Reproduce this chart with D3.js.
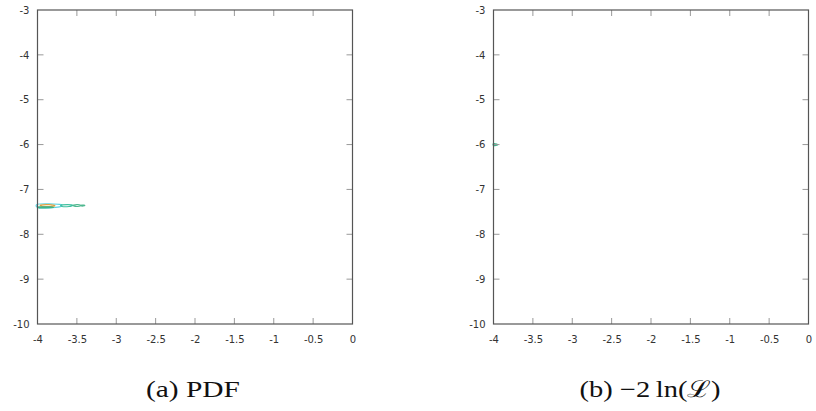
<!DOCTYPE html>
<html><head><meta charset="utf-8">
<script src="https://cdn.jsdelivr.net/npm/d3@7"></script>
<style>body{margin:0;background:#fff}svg{display:block}</style>
</head><body>
<script>
const xTicks = [-4, -3.5, -3, -2.5, -2, -1.5, -1, -0.5, 0];
const yTicks = [-10, -9, -8, -7, -6, -5, -4, -3];
const captions = ["(a) PDF", "(b) \u22122\u2009ln(\u2112)"];
// contour rings for panel (a): [level colour, points]
const contourA = [
  {c: "#5fd3e0", pts: [[-4,-7.33],[-3.85,-7.32],[-3.7,-7.34],[-3.72,-7.39],[-3.86,-7.41],[-4,-7.40]]},
  {c: "#e0a040", pts: [[-3.96,-7.35],[-3.86,-7.34],[-3.78,-7.36],[-3.84,-7.38],[-3.94,-7.38]]},
  {c: "#3cb48c", pts: [[-3.98,-7.39],[-3.85,-7.39],[-3.80,-7.40],[-3.90,-7.41],[-3.98,-7.41]]},
  {c: "#40c0a0", pts: [[-3.70,-7.35],[-3.62,-7.34],[-3.55,-7.35],[-3.60,-7.38],[-3.69,-7.38]]},
  {c: "#50b890", pts: [[-3.54,-7.35],[-3.49,-7.34],[-3.45,-7.36],[-3.49,-7.38],[-3.54,-7.37]]},
  {c: "#50b890", pts: [[-3.44,-7.35],[-3.41,-7.35],[-3.40,-7.36],[-3.42,-7.37],[-3.44,-7.37]]}
];
const contourB = [
  {c: "#3cb48c", pts: [[-4,-5.98],[-3.96,-5.99],[-3.95,-6.01],[-4,-6.02]]}
];

const W = 816, H = 411;
const svg = d3.select("body").append("svg").attr("width", W).attr("height", H);
const panels = [
  {x0: 37.5, contours: contourA, capX: 193, capW: 94},
  {x0: 493.5, contours: contourB, capX: 650, capW: 141}
];
const pw = 315, plotTop = 10, plotBottom = 324;

panels.forEach((p, i) => {
  const x = d3.scaleLinear().domain([-4, 0]).range([p.x0, p.x0 + pw]);
  const y = d3.scaleLinear().domain([-10, -3]).range([plotBottom, plotTop]);
  const g = svg.append("g");
  const line = d3.line().x(d => x(d[0])).y(d => y(d[1])).curve(d3.curveCardinalClosed);
  p.contours.forEach(c => {
    g.append("path").attr("d", line(c.pts)).attr("fill", "none")
      .attr("stroke", c.c).attr("stroke-width", 1.2);
  });
  const tickCol = "#999";
  xTicks.slice(1, -1).forEach(t => {
    g.append("line").attr("x1", x(t)).attr("x2", x(t)).attr("y1", plotBottom).attr("y2", plotBottom - 6).attr("stroke", tickCol);
    g.append("line").attr("x1", x(t)).attr("x2", x(t)).attr("y1", plotTop).attr("y2", plotTop + 6).attr("stroke", tickCol);
  });
  yTicks.slice(1, -1).forEach(t => {
    g.append("line").attr("x1", p.x0).attr("x2", p.x0 + 6).attr("y1", y(t)).attr("y2", y(t)).attr("stroke", tickCol);
    g.append("line").attr("x1", p.x0 + pw).attr("x2", p.x0 + pw - 6).attr("y1", y(t)).attr("y2", y(t)).attr("stroke", tickCol);
  });
  g.append("rect").attr("x", p.x0).attr("y", plotTop).attr("width", pw).attr("height", plotBottom - plotTop)
    .attr("fill", "none").attr("stroke", "#555").attr("stroke-width", 1.2);
  const ax = g.append("g").attr("transform", `translate(0,${plotBottom})`)
    .call(d3.axisBottom(x).tickValues(xTicks).tickFormat(d => String(d)).tickSize(0).tickPadding(12));
  const ay = g.append("g").attr("transform", `translate(${p.x0},0)`)
    .call(d3.axisLeft(y).tickValues(yTicks).tickFormat(d => String(d)).tickSize(0).tickPadding(8));
  [ax, ay].forEach(a => {
    a.select(".domain").remove();
    a.selectAll("text").attr("font-family", "DejaVu Sans, sans-serif").attr("font-size", 10).attr("fill", "#333");
  });
  svg.append("text").attr("x", p.capX).attr("y", 397).attr("text-anchor", "middle")
    .attr("font-family", "Liberation Serif, serif").attr("font-size", 23).attr("fill", "#111")
    .attr("textLength", p.capW).attr("lengthAdjust", "spacingAndGlyphs")
    .text(captions[i]);
});
</script>
</body></html>
